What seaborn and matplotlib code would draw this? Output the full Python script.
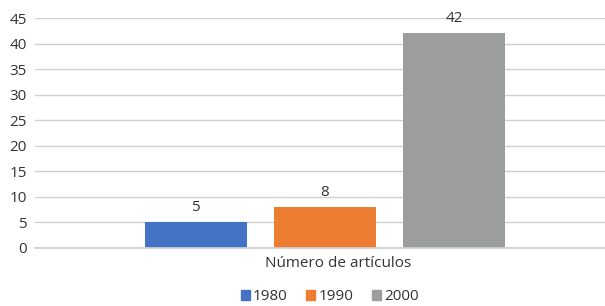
import matplotlib.pyplot as plt
import pandas as pd
import seaborn as sns

# ── Data ──────────────────────────────────────────────────────────────────────

categories = ["Número de artículos"]
years      = ["1980", "1990", "2000"]
values     = [5, 8, 42]
colors     = ["#4472C4", "#ED7D31", "#9C9E9E"]

df = pd.DataFrame({
    "categoria": categories * len(years),
    "año":       years,
    "valor":     values,
})

# ── Plot ──────────────────────────────────────────────────────────────────────

sns.set_theme(style="white")
plt.rcParams["font.family"] = ["Open Sans", "DejaVu Sans"]

fig = plt.figure(figsize=(6.05, 3.06), dpi=100)
ax = fig.add_axes([0.058, 0.19, 0.942, 0.751])

sns.barplot(data=df, x="categoria", y="valor", hue="año", palette=colors,
            width=0.8, gap=0.21, ax=ax, legend=False, saturation=1,
            linewidth=0)

for cont in ax.containers:
    ax.bar_label(cont, padding=5, fontsize=11, color="#333333")

ax.set_xlim(-0.599, 0.579)
ax.set_ylim(0, 45)
ax.set_yticks(range(0, 46, 5))
ax.yaxis.grid(True, color="#d0d0d0", lw=1)
ax.set_axisbelow(True)
for side in ["top", "right", "left"]:
    ax.spines[side].set_visible(False)
ax.spines["bottom"].set_color("#d0d0d0")
ax.tick_params(axis="both", length=0, labelsize=11, colors="#333333", pad=6)
ax.set_xticks([0.027], categories)   # label sits a bit right of the bar group
ax.set_xlabel("")
ax.set_ylabel("")

handles = [plt.Rectangle((0, 0), 1, 1, color=c) for c in colors]
fig.legend(handles, years, loc="center", bbox_to_anchor=(0.545, 0.03), ncol=3,
           frameon=False, fontsize=11, handlelength=0.6, handleheight=0.6,
           handletextpad=0.2, columnspacing=1.2, labelcolor="#333333")

fig.savefig("out.png", dpi=100)
